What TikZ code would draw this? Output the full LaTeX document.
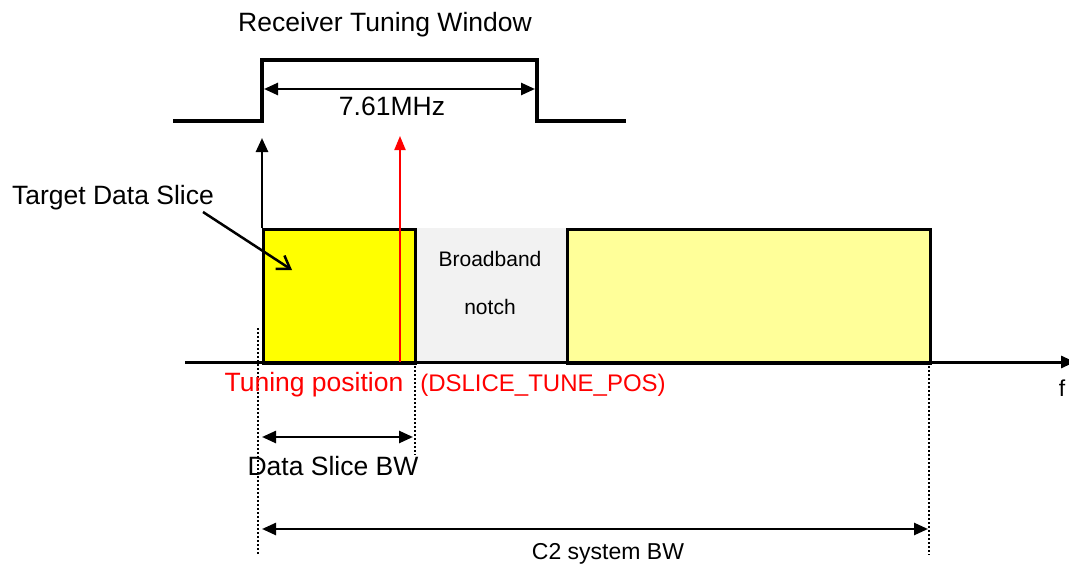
\documentclass[tikz,border=0pt]{standalone}
\usepackage{fontspec}
\setmainfont{Liberation Sans}
\usetikzlibrary{arrows.meta}
\definecolor{slicey}{HTML}{FFFF00}
\definecolor{lighty}{HTML}{FFFF99}
\definecolor{notchg}{HTML}{F2F2F2}
\definecolor{tred}{HTML}{FF0000}
\begin{document}
\begin{tikzpicture}[x=1pt,y=-1pt,
  lbl/.style={inner sep=0pt,font=\fontsize{26.5}{28}\selectfont},
  mid/.style={inner sep=0pt,font=\fontsize{24}{26}\selectfont},
  sml/.style={inner sep=0pt,font=\fontsize{23}{25}\selectfont},
  small/.style={inner sep=0pt,font=\fontsize{21}{23}\selectfont},
  tip/.style={-{Triangle[length=14pt,width=12pt]}},
  dtip/.style={{Triangle[length=14pt,width=12pt]}-{Triangle[length=14pt,width=12pt]}},
  boxline/.style={draw=black,line width=2.5pt},
  dotline/.style={line width=2pt,dash pattern=on 2pt off 2pt}]
\useasboundingbox (0,0) rectangle (1069,565);
% fills
\fill[notchg] (414,228) rectangle (566,362);
\node[boxline,fill=slicey,minimum width=152pt,minimum height=134pt,inner sep=0pt,anchor=north west] (slice) at (262,228) {};
\node[boxline,fill=lighty,minimum width=363pt,minimum height=134pt,inner sep=0pt,anchor=north west] (rest) at (566,228) {};
\node[small] (bb) at (490,259) {Broadband};
\node[small] (notch) at (490,307) {notch};
% dotted lines
\coordinate (d1t) at (258,328); \coordinate (d1b) at (258,555);
\coordinate (d2t) at (415,330); \coordinate (d2b) at (415,455);
\coordinate (d3t) at (929,362); \coordinate (d3b) at (929,555);
\draw[dotline] (d1t) -- (d1b);
\draw[dotline] (d2t) -- (d2b);
\draw[dotline] (d3t) -- (d3b);
% axis
\coordinate (ax0) at (185,362); \coordinate (ax1) at (1075,362);
\draw[line width=3pt,tip] (ax0) -- (ax1);
\node[sml] (f) at (1062,388) {f};
% tuning window
\coordinate (w0) at (173,121); \coordinate (w1) at (262,121); \coordinate (w2) at (262,60);
\coordinate (w3) at (537,60); \coordinate (w4) at (537,121); \coordinate (w5) at (626,121);
\draw[line width=4pt] (w0) -- (w1) -- (w2) -- (w3) -- (w4) -- (w5);
\node[lbl] (title) at (385,25) {Receiver Tuning Window};
\coordinate (m0) at (264,89); \coordinate (m1) at (535,89);
\draw[line width=2.5pt,dtip] (m0) -- (m1);
\node[lbl] (mhz) at (392,106) {7.61MHz};
% up arrows
\coordinate (ua0) at (262,228); \coordinate (ua1) at (262,138);
\draw[line width=2.5pt,tip] (ua0) -- (ua1);
\coordinate (ra0) at (400,362); \coordinate (ra1) at (400,136);
\draw[line width=2pt,tred,-{Triangle[length=14pt,width=11pt]}] (ra0) -- (ra1);
% target label
\node[lbl] (target) at (113,198) {Target Data Slice};
\coordinate (tt) at (292,270);
\draw[line width=2.5pt,-{Straight Barb[length=12pt,width=16pt]}] (203,212) -- (tt);
% tuning position
\node[lbl,text=tred] (tpos) at (314,385) {Tuning position};
\node[mid,text=tred] (dpos) at (543,385) {(DSLICE\_TUNE\_POS)};
% data slice bw
\coordinate (s0) at (262,437); \coordinate (s1) at (413,437);
\draw[line width=2.5pt,dtip] (s0) -- (s1);
\node[lbl] (sbw) at (333,466) {Data Slice BW};
% c2 system bw
\coordinate (c0) at (262,529); \coordinate (c1) at (928,529);
\draw[line width=2.5pt,dtip] (c0) -- (c1);
\node[sml] (cbw) at (608,554) {C2 system BW};
\end{tikzpicture}
\end{document}
